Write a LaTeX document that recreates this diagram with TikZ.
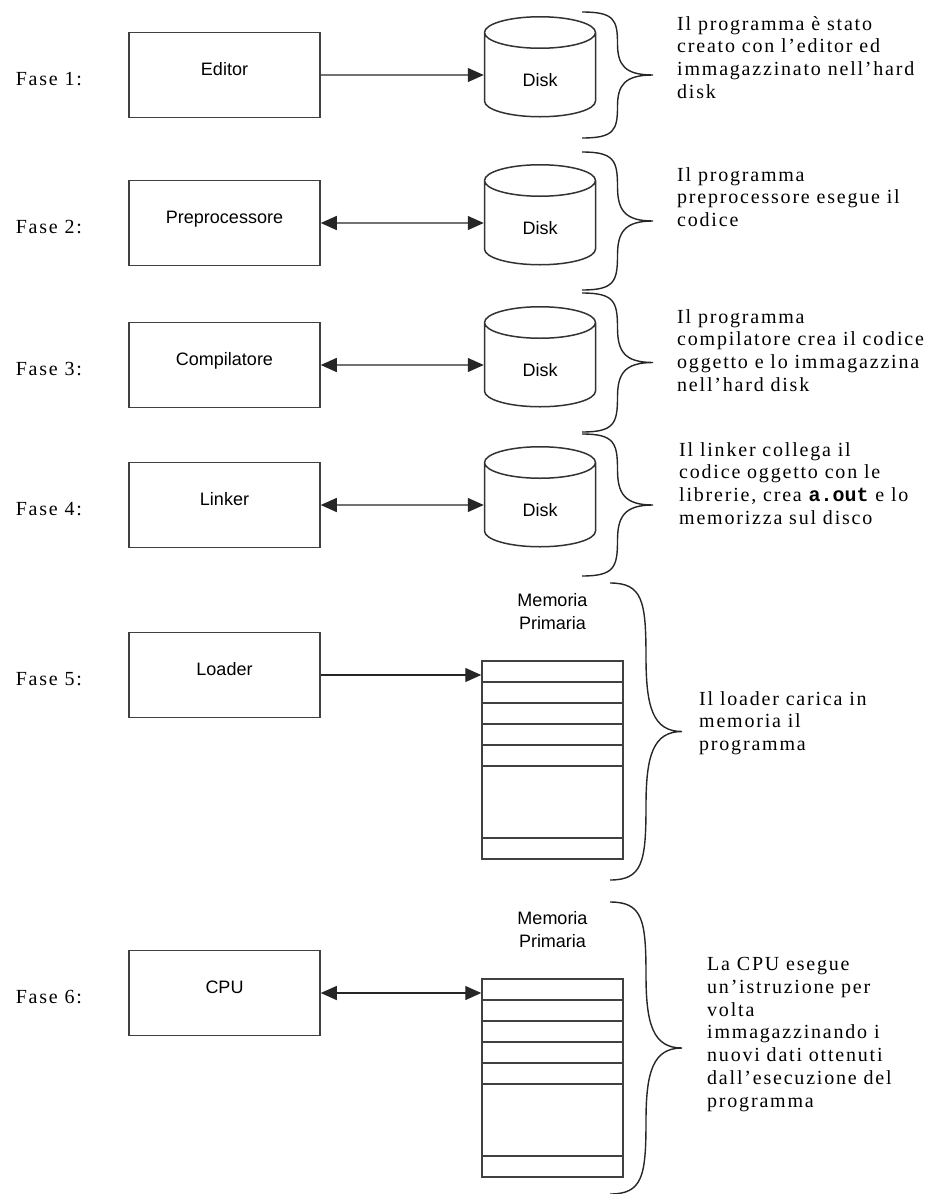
\documentclass[tikz,border=0pt]{standalone}
\usepackage{fontspec}
\setmainfont{Liberation Serif}[LetterSpace=9]
\setsansfont{Liberation Sans}
\setmonofont{Liberation Mono}
\usetikzlibrary{positioning, shapes.geometric, shapes.multipart, arrows.meta}

% curly brace: name of tip, x, top, bottom, width
\newcommand{\curly}[5]{%
  \pgfmathsetmacro{\curlyh}{#4-#3}%
  \draw[curly] (#2,#3)
    .. controls ({#2+0.45*#5},#3) and ({#2+0.5*#5},{#3+0.06*\curlyh}) .. ({#2+0.5*#5},{#3+0.25*\curlyh})
    .. controls ({#2+0.5*#5},{#3+0.42*\curlyh}) and ({#2+0.6*#5},{#3+0.5*\curlyh}) .. ({#2+#5},{#3+0.5*\curlyh}) coordinate (#1)
    .. controls ({#2+0.6*#5},{#3+0.5*\curlyh}) and ({#2+0.5*#5},{#3+0.58*\curlyh}) .. ({#2+0.5*#5},{#3+0.75*\curlyh})
    .. controls ({#2+0.5*#5},{#3+0.94*\curlyh}) and ({#2+0.45*#5},#4) .. (#2,#4);}

\begin{document}
\begin{tikzpicture}[
    x=1pt, y=-1pt,
    every node/.style={inner sep=0pt},
    procbox/.style={
        rectangle,
        draw=black!75,
        line width=1.5pt,
        minimum width=191pt,
        minimum height=85pt,
        font=\sffamily\fontsize{18}{20}\selectfont,
        text height=13pt,
        text depth=13pt,
    },
    disk/.style={
        cylinder,
        shape border rotate=90,
        aspect=0.9,
        draw=black!80,
        line width=1.5pt,
        minimum width=111pt,
        minimum height=100pt,
        font=\sffamily\fontsize{18}{20}\selectfont,
        text height=23pt,
        text depth=0pt,
    },
    memory/.style={
        rectangle split,
        rectangle split parts=7,
        draw=black!75,
        line width=1.5pt,
        inner sep=0pt,
        minimum width=141pt,
    },
    memlabel/.style={
        font=\sffamily\fontsize{18}{23}\selectfont,
        align=center,
    },
    phase/.style={font=\fontsize{20}{23}\selectfont},
    note/.style={
        font=\fontsize{20}{22.8}\selectfont,
        align=left,
        anchor=north west,
    },
    flow/.style={
        -{Triangle[length=16pt, width=14pt]},
        line width=1.4pt,
        draw=black!85,
    },
    dflow/.style={
        flow,
        {Triangle[length=16pt, width=14pt]}-{Triangle[length=16pt, width=14pt]},
    },
    curly/.style={line width=1.4pt, draw=black!85},
]
\useasboundingbox (0,0) rectangle (940,1194);

% Fase 1
\node[procbox] (editor) at (224.5,75) {Editor};
\node[phase, left=46pt of editor, yshift=-4pt] (fase1) {Fase 1:};
\node[disk, right=163pt of editor] (disk1) {Disk};
\draw[flow] (editor) -- (disk1);
\curly{tip1}{582}{12}{138}{71}
\node[note] (note1) at (677,16) {Il programma è stato\\creato con l'editor ed\\immagazzinato nell'hard\\disk};

% Fase 2
\node[procbox] (prepro) at (224.5,223) {Preprocessore};
\node[phase, left=46pt of prepro, yshift=-4pt] (fase2) {Fase 2:};
\node[disk, right=163pt of prepro] (disk2) {Disk};
\draw[dflow] (prepro) -- (disk2);
\curly{tip2}{582}{152}{290}{71}
\node[note] (note2) at (677,167) {Il programma\\preprocessore esegue il\\codice};

% Fase 3
\node[procbox] (compil) at (224.5,365) {Compilatore};
\node[phase, left=46pt of compil, yshift=-4pt] (fase3) {Fase 3:};
\node[disk, right=163pt of compil] (disk3) {Disk};
\draw[dflow] (compil) -- (disk3);
\curly{tip3}{582}{293}{432}{71}
\node[note] (note3) at (677,309) {Il programma\\compilatore crea il codice\\oggetto e lo immagazzina\\nell'hard disk};

% Fase 4
\node[procbox] (linker) at (224.5,505) {Linker};
\node[phase, left=46pt of linker, yshift=-4pt] (fase4) {Fase 4:};
\node[disk, right=163pt of linker] (disk4) {Disk};
\draw[dflow] (linker) -- (disk4);
\curly{tip4}{582}{434}{576}{71}
\node[note] (note4) at (679,442) {Il linker collega il\\codice oggetto con le\\librerie, crea {\ttfamily\bfseries a.out} e lo\\memorizza sul disco};

% Fase 5
\node[procbox] (loader) at (224.5,675) {Loader};
\node[phase, left=46pt of loader, yshift=-4pt] (fase5) {Fase 5:};
\node[memory] (mem5) at (552.5,760) {
    \nodepart{one}\rule{0pt}{19.5pt}
    \nodepart{two}\rule{0pt}{19.5pt}
    \nodepart{three}\rule{0pt}{19.5pt}
    \nodepart{four}\rule{0pt}{19.5pt}
    \nodepart{five}\rule{0pt}{19.5pt}
    \nodepart{six}\rule{0pt}{70.5pt}
    \nodepart{seven}\rule{0pt}{19.5pt}
};
\node[memlabel, above=30pt of mem5] (lab5) {Memoria\\Primaria};
\draw[flow] (loader.east) -- (loader.east -| mem5.west);
\curly{tip5}{610}{583}{880}{72}
\node[note] (note5) at (699,691) {Il loader carica in\\memoria il\\programma};

% Fase 6
\node[procbox] (cpu) at (224.5,993) {CPU};
\node[phase, left=46pt of cpu, yshift=-4pt] (fase6) {Fase 6:};
\node[memory] (mem6) at (552.5,1078) {
    \nodepart{one}\rule{0pt}{19.5pt}
    \nodepart{two}\rule{0pt}{19.5pt}
    \nodepart{three}\rule{0pt}{19.5pt}
    \nodepart{four}\rule{0pt}{19.5pt}
    \nodepart{five}\rule{0pt}{19.5pt}
    \nodepart{six}\rule{0pt}{70.5pt}
    \nodepart{seven}\rule{0pt}{19.5pt}
};
\node[memlabel, above=30pt of mem6] (lab6) {Memoria\\Primaria};
\draw[dflow] (cpu.east) -- (cpu.east -| mem6.west);
\curly{tip6}{610}{902}{1194}{72}
\node[note] (note6) at (707,957) {La CPU esegue\\un'istruzione per\\volta\\immagazzinando i\\nuovi dati ottenuti\\dall'esecuzione del\\programma};

\end{tikzpicture}
\end{document}
